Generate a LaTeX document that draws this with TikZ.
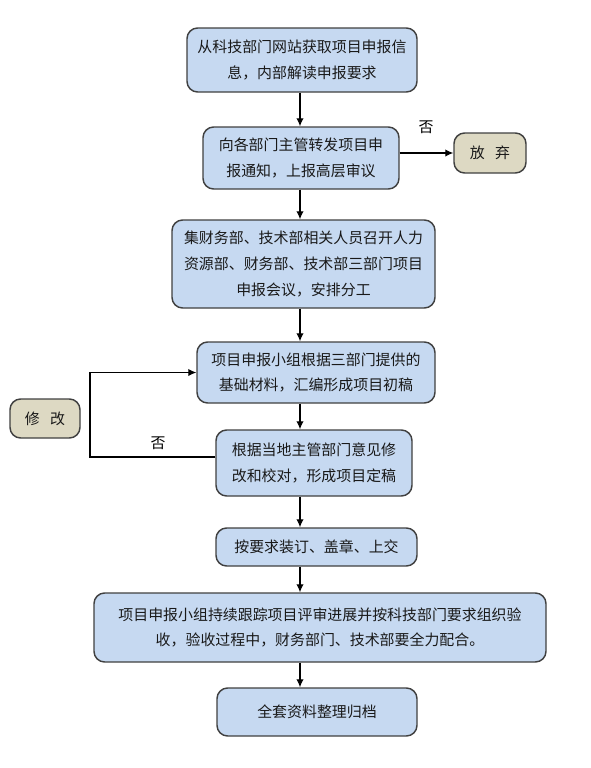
\documentclass[tikz,border=0pt]{standalone}
\usepackage{fontspec}
\newfontfamily\cjk{Noto Sans CJK SC}
\usetikzlibrary{arrows.meta}
\definecolor{boxblue}{HTML}{C6D9F1}
\definecolor{boxtan}{HTML}{DDD9C3}
\definecolor{boxline}{HTML}{404040}
\tikzset{
  stepbox/.style={draw=boxline, line width=1.1pt, fill=boxblue, rounded corners=8pt,
    inner sep=0pt, align=center, font=\cjk\fontsize{11.2pt}{19.3pt}\selectfont, text=black!90},
  tanbox/.style={stepbox, fill=boxtan},
  arr/.style={draw=black, line width=0.8pt, -{Latex[length=6pt,width=5.5pt]}},
  lbl/.style={font=\cjk\fontsize{11.2pt}{13pt}\selectfont, inner sep=0pt}
}
\begin{document}
\begin{tikzpicture}[x=0.75pt, y=-0.75pt]
\useasboundingbox (0,0) rectangle (590,768);
\coordinate (ax) at (300,0);
\coordinate (fb) at (90,457);

\node[stepbox, minimum width=230*0.75pt, minimum height=64*0.75pt] (b1) at (302,60)
  {从科技部门网站获取项目申报信\\息，内部解读申报要求};
\node[stepbox, minimum width=196*0.75pt, minimum height=62*0.75pt] (b2) at (301,158)
  {向各部门主管转发项目申\\报通知，上报高层审议};
\node[tanbox, minimum width=72*0.75pt, minimum height=40*0.75pt] (fq) at (490,153)
  {放\hspace{0.7em}弃};
\node[stepbox, minimum width=263*0.75pt, minimum height=88*0.75pt] (b3) at (303.5,264)
  {集财务部、技术部相关人员召开人力\\资源部、财务部、技术部三部门项目\\申报会议，安排分工};
\node[stepbox, minimum width=238*0.75pt, minimum height=61*0.75pt] (b4) at (316,372.5)
  {项目申报小组根据三部门提供的\\基础材料，汇编形成项目初稿};
\node[tanbox, minimum width=70*0.75pt, minimum height=39*0.75pt] (xg) at (45,418.5)
  {修\hspace{0.7em}改};
\node[stepbox, minimum width=196*0.75pt, minimum height=66*0.75pt] (b5) at (314,463)
  {根据当地主管部门意见修\\改和校对，形成项目定稿};
\node[stepbox, minimum width=201*0.75pt, minimum height=38*0.75pt] (b6) at (316.5,547)
  {按要求装订、盖章、上交};
\node[stepbox, minimum width=452*0.75pt, minimum height=69*0.75pt] (b7) at (320,627.5)
  {项目申报小组持续跟踪项目评审进展并按科技部门要求组织验\\收，验收过程中，财务部门、技术部要全力配合。};
\node[stepbox, minimum width=200*0.75pt, minimum height=48*0.75pt] (b8) at (317,712)
  {全套资料整理归档};

\draw[arr] (b1.south -| ax) -- (b2.north -| ax);
\draw[arr] (b2.south -| ax) -- (b3.north -| ax);
\draw[arr] (b3.south -| ax) -- (b4.north -| ax);
\draw[arr] (b4.south -| ax) -- (b5.north -| ax);
\draw[arr] (b5.south -| ax) -- (b6.north -| ax);
\draw[arr] (b6.south -| ax) -- (b7.north -| ax);
\draw[arr] (b7.south -| ax) -- (b8.north -| ax);

\draw[arr] (b2.east |- fq.west) -- (fq.west);
\node[lbl] (no1) at (426,127) {否};

\draw[arr] (b5.west |- fb) -- (fb) -- (b4.west -| fb) -- (b4.west);
\node[lbl] (no2) at (158,443) {否};
\end{tikzpicture}
\end{document}
